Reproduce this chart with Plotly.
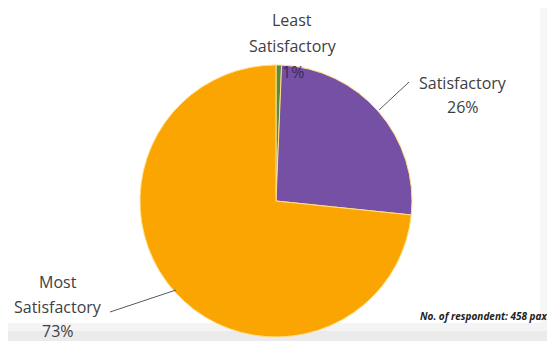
import plotly.graph_objects as go

categories = ["Least Satisfactory", "Satisfactory", "Most Satisfactory"]
values = [3, 119, 336]
pct_labels = ["1%", "26%", "73%"]
colors = ["#5B8C3A", "#7650A5", "#FBA503"]

# page body has an 8px default margin; map reference pixels to figure paper
OFF = 8
W, H = 547, 333


def px(x):
    return (x - OFF) / W


def py(y):
    return 1 - (y - OFF) / H


fig = go.Figure(go.Pie(
    labels=categories,
    values=values,
    sort=False,
    direction="clockwise",
    rotation=0,
    marker=dict(colors=colors, line=dict(color="#FFE08A", width=1)),
    textinfo="none",
    hoverinfo="label+percent",
    domain=dict(x=[px(140), px(412)], y=[py(337), py(65)]),
    showlegend=False,
))

txt = "#404040"
fnt = "Open Sans, sans-serif"
annots = [
    ("Least", 292, 20, txt),
    ("Satisfactory", 293, 46, txt),
    (pct_labels[0], 293, 72, "#3A2A5A"),
    ("Satisfactory", 463, 83, txt),
    (pct_labels[1], 463, 107, txt),
    ("Most", 58, 282, txt),
    ("Satisfactory", 58, 307, txt),
    (pct_labels[2], 58, 331, txt),
]
annotations = [
    dict(text=t, x=px(x), y=py(y), xref="paper", yref="paper",
         xanchor="center", yanchor="middle", showarrow=False,
         font=dict(family=fnt, size=16, color=c))
    for t, x, y, c in annots
]
annotations.append(dict(
    text="<b><i>No. of respondent: 458 pax</i></b>",
    x=px(549), y=py(316), xref="paper", yref="paper",
    xanchor="right", yanchor="middle", showarrow=False,
    font=dict(family="Open Sans, sans-serif", size=10, color="#222222")))

shapes = [
    dict(type="rect", xref="paper", yref="paper", x0=px(540), x1=1.1, y0=-0.1, y1=1.1,
         fillcolor="#f6f6f6", line=dict(width=0), layer="below"),
    dict(type="rect", xref="paper", yref="paper", x0=-0.1, x1=1.1, y0=py(331), y1=py(323),
         fillcolor="#f4f4f4", line=dict(width=0), layer="below"),
    dict(type="rect", xref="paper", yref="paper", x0=-0.1, x1=1.1, y0=-0.1, y1=py(331),
         fillcolor="#ebebeb", line=dict(width=0), layer="below"),
    dict(type="line", xref="paper", yref="paper", x0=px(409), y0=py(82),
         x1=px(379), y1=py(110), line=dict(color="#595959", width=1)),
    dict(type="line", xref="paper", yref="paper", x0=px(110), y0=py(312),
         x1=px(176), y1=py(290), line=dict(color="#595959", width=1)),
]

fig.update_layout(
    width=W, height=H,
    margin=dict(l=0, r=0, t=0, b=0),
    paper_bgcolor="white",
    plot_bgcolor="white",
    annotations=annotations,
    shapes=shapes,
)

fig.write_html("out.html")
